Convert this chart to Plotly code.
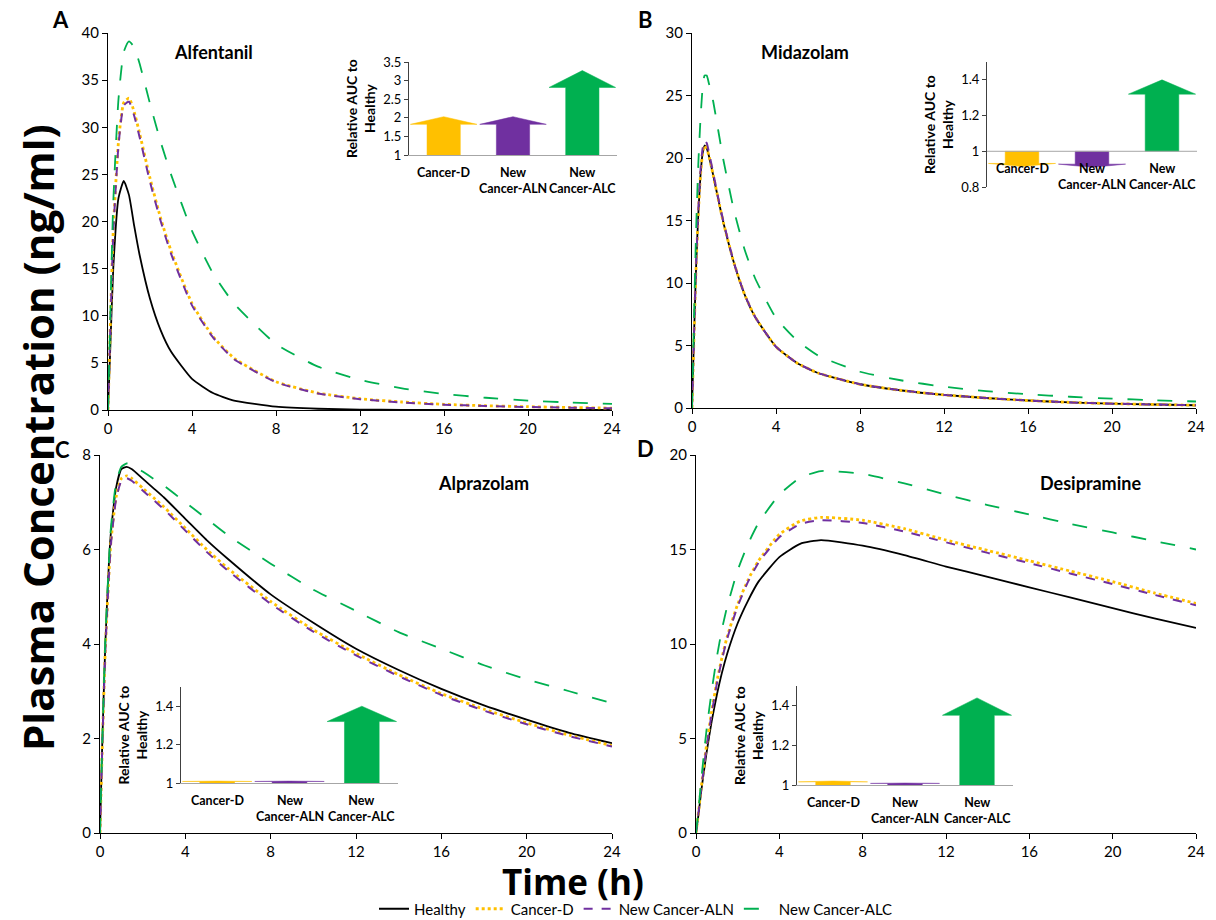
import plotly.graph_objects as go

W, H = 1216, 920

# ---------------- data ----------------
series_names = ["Healthy", "Cancer-D", "New Cancer-ALN", "New Cancer-ALC"]
series_colors = ["#000000", "#FFC000", "#7030A0", "#00B050"]
series_dash = ["solid", "dot", "dash", "longdash"]
series_width = [1.8, 2.8, 2.0, 1.8]

time_a = [0, 0.1, 0.25, 0.5, 0.75, 1, 1.25, 1.5, 2, 2.5, 3, 4, 5, 6, 8, 10, 12, 14, 16, 18, 20, 22, 24]
time_b = [0, 0.1, 0.2, 0.3, 0.4, 0.5, 0.6, 0.7, 0.8, 1, 1.25, 1.5, 2, 2.5, 3, 4, 5, 6, 8, 10, 12, 14, 16, 18, 20, 22, 24]
time_c = [0, 0.1, 0.25, 0.5, 0.75, 1, 1.25, 1.5, 2, 2.5, 3, 4, 5, 6, 8, 10, 12, 14, 16, 18, 20, 22, 24]
time_d = [0, 0.1, 0.25, 0.5, 0.75, 1, 1.25, 1.5, 2, 2.5, 3, 4, 5, 6, 8, 10, 12, 14, 16, 18, 20, 22, 24]

alfentanil = {
    "Healthy":        [0, 6, 15, 22.5, 24.3, 22.8, 19.5, 16.5, 11.8, 8.5, 6.2, 3.3, 1.8, 1.0, 0.35, 0.13, 0.05, 0.02, 0.01, 0, 0, 0, 0],
    "Cancer-D":       [0, 8, 19, 28.5, 32.6, 33.1, 31.6, 29.4, 24.6, 20.4, 16.9, 11.3, 7.8, 5.5, 3.0, 1.8, 1.2, 0.85, 0.6, 0.45, 0.35, 0.27, 0.2],
    "New Cancer-ALN": [0, 7.8, 18.7, 28.1, 32.3, 32.7, 31.2, 29.0, 24.2, 20.1, 16.6, 11.1, 7.7, 5.4, 2.95, 1.75, 1.15, 0.8, 0.57, 0.42, 0.32, 0.25, 0.18],
    "New Cancer-ALC": [0, 9, 22, 33, 38, 39.1, 38.5, 36.8, 32.5, 28.5, 25, 19, 14.5, 11.3, 7.0, 4.6, 3.2, 2.3, 1.7, 1.3, 1.0, 0.8, 0.65],
}
midazolam = {
    "Healthy":        [0, 6, 11.5, 15.5, 18.5, 20.3, 21.0, 20.8, 20.2, 18.7, 16.7, 14.8, 11.6, 9.1, 7.3, 4.9, 3.6, 2.8, 1.9, 1.4, 1.05, 0.8, 0.6, 0.45, 0.35, 0.28, 0.22],
    "Cancer-D":       [0, 6, 11.5, 15.5, 18.5, 20.3, 21.0, 20.8, 20.2, 18.7, 16.7, 14.8, 11.6, 9.1, 7.3, 4.9, 3.6, 2.8, 1.9, 1.4, 1.05, 0.8, 0.6, 0.45, 0.35, 0.28, 0.22],
    "New Cancer-ALN": [0, 6.1, 11.7, 15.8, 18.9, 20.7, 21.4, 21.2, 20.5, 18.9, 16.8, 14.9, 11.6, 9.1, 7.3, 4.9, 3.6, 2.8, 1.9, 1.4, 1.05, 0.8, 0.6, 0.45, 0.35, 0.28, 0.22],
    "New Cancer-ALC": [0, 7.5, 14.5, 19.5, 23.0, 25.5, 26.6, 26.6, 26.0, 24.6, 22.2, 19.8, 15.8, 12.7, 10.4, 7.2, 5.4, 4.2, 2.9, 2.2, 1.7, 1.35, 1.1, 0.9, 0.75, 0.62, 0.52],
}
alprazolam = {
    "Healthy":        [0, 1.8, 4.0, 6.3, 7.3, 7.7, 7.75, 7.7, 7.5, 7.3, 7.1, 6.65, 6.2, 5.8, 5.05, 4.45, 3.9, 3.45, 3.05, 2.7, 2.4, 2.12, 1.9],
    "Cancer-D":       [0, 1.7, 3.9, 6.1, 7.1, 7.5, 7.56, 7.5, 7.3, 7.1, 6.9, 6.45, 6.0, 5.6, 4.9, 4.3, 3.8, 3.35, 2.95, 2.62, 2.33, 2.07, 1.85],
    "New Cancer-ALN": [0, 1.7, 3.85, 6.05, 7.05, 7.45, 7.51, 7.45, 7.25, 7.05, 6.85, 6.4, 5.95, 5.55, 4.85, 4.26, 3.76, 3.32, 2.92, 2.59, 2.3, 2.05, 1.83],
    "New Cancer-ALC": [0, 1.8, 4.1, 6.4, 7.4, 7.75, 7.82, 7.8, 7.65, 7.5, 7.35, 7.0, 6.65, 6.3, 5.7, 5.15, 4.7, 4.25, 3.9, 3.55, 3.25, 3.0, 2.75],
}
desipramine = {
    "Healthy":        [0, 0.8, 2.2, 4.2, 5.9, 7.3, 8.5, 9.5, 11.1, 12.3, 13.3, 14.6, 15.3, 15.5, 15.2, 14.7, 14.1, 13.55, 13.0, 12.45, 11.9, 11.35, 10.85],
    "Cancer-D":       [0, 0.9, 2.4, 4.6, 6.4, 8.0, 9.3, 10.4, 12.1, 13.4, 14.4, 15.8, 16.5, 16.7, 16.55, 16.1, 15.5, 14.95, 14.4, 13.85, 13.3, 12.7, 12.15],
    "New Cancer-ALN": [0, 0.9, 2.35, 4.5, 6.3, 7.9, 9.2, 10.3, 12.0, 13.3, 14.3, 15.65, 16.35, 16.55, 16.4, 15.95, 15.38, 14.82, 14.28, 13.72, 13.17, 12.6, 12.05],
    "New Cancer-ALC": [0, 1.0, 2.8, 5.4, 7.5, 9.3, 10.8, 12.0, 13.9, 15.3, 16.4, 17.9, 18.8, 19.15, 19.0, 18.5, 17.9, 17.35, 16.85, 16.35, 15.9, 15.45, 15.0],
}

drug_titles = ["Alfentanil", "Midazolam", "Alprazolam", "Desipramine"]
panel_letters = ["A", "B", "C", "D"]
drug_data = [alfentanil, midazolam, alprazolam, desipramine]
drug_times = [time_a, time_b, time_c, time_d]
y_ranges = [[0, 40], [0, 30], [0, 8], [0, 20]]
y_dticks = [5, 5, 2, 5]
x_ticks = [0, 4, 8, 12, 16, 20, 24]

inset_categories = ["Cancer-D", "New<br>Cancer-ALN", "New<br>Cancer-ALC"]
inset_colors = ["#FFC000", "#7030A0", "#00B050"]
relative_auc = [
    [2.03, 2.03, 3.27],
    [0.915, 0.91, 1.40],
    [1.01, 1.01, 1.40],
    [1.02, 1.01, 1.44],
]
inset_ranges = [[1, 3.5], [0.8, 1.5], [1, 1.5], [1, 1.5]]
inset_dticks = [0.5, 0.2, 0.2, 0.2]

# ---------------- layout geometry (pixels) ----------------
def fx(px):
    return px / W

def fy(py):
    return 1 - py / H

main_boxes = [  # x0, x1, ytop, ybottom
    (108, 612, 33, 410),
    (692, 1196, 33, 408),
    (100, 612, 455, 833),
    (696, 1196, 455, 833),
]
inset_boxes = [
    (409, 617, 62, 155),
    (987, 1197, 62, 187),
    (181, 398, 687, 783),
    (797, 1013, 686, 785),
]

FONT = "Lato"
BIG = "Open Sans"
fig = go.Figure()
layout = dict(
    width=W, height=H,
    margin=dict(l=0, r=0, t=0, b=0, autoexpand=False),
    paper_bgcolor="white", plot_bgcolor="rgba(0,0,0,0)",
    font=dict(family=FONT, color="black"),
    showlegend=True,
)

annotations = []
shapes = []

for p in range(4):
    xa = "x" if p == 0 else f"x{p+1}"
    ya = "y" if p == 0 else f"y{p+1}"
    data = drug_data[p]
    for k, name in enumerate(series_names):
        fig.add_trace(go.Scatter(
            x=drug_times[p], y=data[name], mode="lines", name=name,
            line=dict(color=series_colors[k], dash=series_dash[k], width=series_width[k],
                      shape="spline", smoothing=0.5),
            xaxis=xa, yaxis=ya, showlegend=(p == 0), legendgroup=name,
            hoverinfo="skip",
        ))
    x0, x1, yt, yb = main_boxes[p]
    key = "" if p == 0 else str(p + 1)
    layout["xaxis" + key] = dict(
        domain=[fx(x0), fx(x1)], range=[0, 24], tickvals=x_ticks, anchor=ya,
        showline=True, linecolor="black", linewidth=1, ticks="outside", ticklen=5,
        tickcolor="black", showgrid=False, zeroline=False, automargin=False,
        tickfont=dict(size=15, family=FONT, color="black"),
    )
    layout["yaxis" + key] = dict(
        domain=[fy(yb), fy(yt)], range=y_ranges[p], dtick=y_dticks[p], anchor=xa,
        showline=True, linecolor="black", linewidth=1, ticks="outside", ticklen=5,
        tickcolor="black", showgrid=False, zeroline=False, automargin=False,
        tickfont=dict(size=15, family=FONT, color="black"),
    )

# insets, titles, letters
title_pos = [(213, 52), (805, 52), (483, 483), (1090, 483)]
letter_pos = [(60, 20), (645, 20), (62, 449), (645, 448)]
for p in range(4):
    n = p + 5
    xa, ya = f"x{n}", f"y{n}"
    for i, v in enumerate(relative_auc[p]):
        d = v - 1
        hb = 1 + 0.8 * d
        xs = [i - 0.24, i - 0.24, i - 0.48, i, i + 0.48, i + 0.24, i + 0.24, i - 0.24]
        ys = [1, hb, hb, v, hb, hb, 1, 1]
        fig.add_trace(go.Scatter(
            x=xs, y=ys, mode="lines", fill="toself", fillcolor=inset_colors[i],
            line=dict(width=0.5, color=inset_colors[i]), xaxis=xa, yaxis=ya,
            showlegend=False, hoverinfo="skip",
        ))
        annotations.append(dict(
            x=i, y=1, xref=xa, yref=ya, text="<b>" + inset_categories[i] + "</b>",
            showarrow=False, xanchor="center", yanchor="top", yshift=-8,
            font=dict(size=12.5, family=FONT, color="black"), align="center",
        ))
    x0, x1, yt, yb = inset_boxes[p]
    layout[f"xaxis{n}"] = dict(
        domain=[fx(x0), fx(x1)], range=[-0.5, 2.5], anchor=ya,
        showline=(p != 1), linecolor="#A6A6A6", linewidth=1, ticks="",
        showticklabels=False, showgrid=False, zeroline=False, automargin=False,
    )
    layout[f"yaxis{n}"] = dict(
        domain=[fy(yb), fy(yt)], range=inset_ranges[p], dtick=inset_dticks[p], anchor=xa,
        showline=True, linecolor="#404040", linewidth=1, ticks="outside", ticklen=4,
        tickcolor="#404040", showgrid=False, zeroline=False, automargin=False,
        tickfont=dict(size=13, family=FONT, color="black"),
        title=dict(text="<b>Relative AUC to<br>Healthy</b>", font=dict(size=14, family=FONT), standoff=4),
    )
    if p == 1:
        shapes.append(dict(type="line", xref=f"{xa} domain", yref=ya, x0=0, x1=1, y0=1, y1=1,
                           line=dict(color="#A6A6A6", width=1)))
    tx, ty = title_pos[p]
    annotations.append(dict(x=fx(tx), y=fy(ty), xref="paper", yref="paper",
                            xanchor="center", yanchor="middle",
                            text="<b>" + drug_titles[p] + "</b>", showarrow=False,
                            font=dict(size=18, family=FONT, color="black")))
    lx, ly = letter_pos[p]
    annotations.append(dict(x=fx(lx), y=fy(ly), xref="paper", yref="paper",
                            xanchor="center", yanchor="middle",
                            text="<b>" + panel_letters[p] + "</b>", showarrow=False,
                            font=dict(size=22, family=FONT, color="black")))

annotations.append(dict(x=fx(37), y=fy(438), xref="paper", yref="paper",
                        xanchor="center", yanchor="middle",
                        text="<b>Plasma Concentration (ng/ml)</b>", textangle=-90, showarrow=False,
                        font=dict(size=42, family=BIG, color="black")))
annotations.append(dict(x=fx(573), y=fy(881), xref="paper", yref="paper",
                        xanchor="center", yanchor="middle",
                        text="<b>Time (h)</b>", showarrow=False,
                        font=dict(size=35, family=BIG, color="black")))

layout["annotations"] = annotations
layout["shapes"] = shapes
layout["legend"] = dict(orientation="h", x=fx(636), xanchor="center", y=fy(909), yanchor="middle",
                        font=dict(size=15, family=FONT, color="black"), itemwidth=30,
                        bgcolor="rgba(0,0,0,0)", tracegroupgap=0)
fig.update_layout(**layout)
fig.write_html("out.html")
